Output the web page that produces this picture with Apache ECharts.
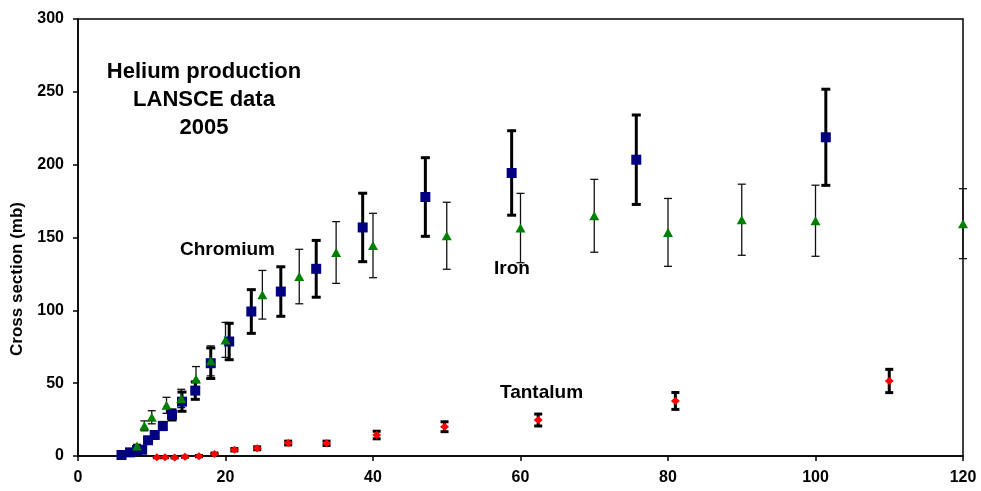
<!DOCTYPE html>
<html>
<head>
<meta charset="utf-8">
<title>Helium production cross sections</title>
<script src="https://cdn.jsdelivr.net/npm/echarts@6/dist/echarts.min.js"></script>
<style>
  html, body { margin: 0; padding: 0; background: #fff; }
  #chart { width: 981px; height: 491px; }
</style>
</head>
<body>
<div id="chart"></div>
<script>
// Neutron energy (MeV), helium production cross section (mb) and 1-sigma uncertainty.
const chromiumX   = [5.9, 7.05, 8.0, 8.7, 9.5, 10.4, 11.5, 12.75, 14.1, 15.9, 18, 20.5, 23.5, 27.5, 32.3, 38.6, 47.1, 58.8, 75.7, 101.4];
const chromiumY   = [0.7, 2.5, 4.1, 4.3, 10.8, 14.4, 20.6, 28.2, 37.3, 44.9, 63.7, 78.6, 99.2, 112.9, 128.5, 156.9, 177.8, 194.3, 203.4, 218.8];
const chromiumErr = [0.5, 0.8, 1, 1, 1.5, 2, 2.5, 3.5, 6.6, 6, 10.5, 12.5, 15, 17, 19.5, 23.5, 27, 29, 30.7, 33];

const ironX   = [8, 9, 10, 12, 14, 16, 18, 20, 25, 30, 35, 40, 50, 60, 70, 80, 90, 100, 120];
const ironY   = [6.8, 20.7, 26.6, 34.8, 39.5, 52.9, 65.3, 79.7, 110.7, 123.2, 139.7, 144.5, 151.2, 156.5, 164.9, 153.5, 162.2, 161.5, 159.5];
const ironErr = [1.2, 3.4, 4.5, 5.5, 6.3, 8.5, 10.3, 12, 16.7, 18.7, 21.2, 22.1, 23, 23.8, 25, 23.3, 24.4, 24.4, 24];

const tantalumX   = [10.7, 11.8, 13.1, 14.5, 16.4, 18.5, 21.2, 24.3, 28.5, 33.7, 40.5, 49.7, 62.4, 81, 110];
const tantalumY   = [-0.9, -0.9, -1.0, -0.5, -0.1, 1.4, 4.3, 5.3, 8.9, 8.7, 14.4, 20.1, 24.7, 37.8, 51.5];
const tantalumErr = [0.3, 0.3, 0.3, 0.3, 0.4, 0.6, 0.8, 1, 1.3, 1.5, 2.6, 3.4, 4.1, 5.8, 8];

const xTicks = { min: 0, max: 120, interval: 20 };
const yTicks = { min: 0, max: 300, interval: 50 };

const FONT = '"Liberation Sans", Arial, Helvetica, sans-serif';

function points(xs, ys) { return xs.map((x, i) => [x, ys[i]]); }
function bars(xs, ys, es) { return xs.map((x, i) => [x, ys[i] - es[i], ys[i] + es[i]]); }

// Vertical error bar with horizontal caps, placed through the axis scales.
function errorBar(capWidth, lineWidth, color) {
  return function (params, api) {
    const x = api.value(0);
    const lo = api.coord([x, api.value(1)]);
    const hi = api.coord([x, api.value(2)]);
    const h = capWidth / 2;
    const style = { stroke: color, lineWidth: lineWidth };
    return {
      type: 'group',
      children: [
        { type: 'line', shape: { x1: lo[0], y1: lo[1], x2: hi[0], y2: hi[1] }, style },
        { type: 'line', shape: { x1: lo[0] - h, y1: lo[1], x2: lo[0] + h, y2: lo[1] }, style },
        { type: 'line', shape: { x1: hi[0] - h, y1: hi[1], x2: hi[0] + h, y2: hi[1] }, style }
      ]
    };
  };
}

const chart = echarts.init(document.getElementById('chart'), null, { renderer: 'canvas' });

const labelStyle = { fontFamily: FONT, fontWeight: 'bold', fill: '#000' };

chart.setOption({
  animation: false,
  backgroundColor: '#fff',
  grid: {
    left: 78, right: 18, top: 19, bottom: 35,
    show: true, borderColor: '#000', borderWidth: 1.5, backgroundColor: 'transparent'
  },
  xAxis: {
    type: 'value',
    min: xTicks.min, max: xTicks.max, interval: xTicks.interval,
    axisLine: { show: true, onZero: true, lineStyle: { color: '#000', width: 1.5 } },
    axisTick: { show: true, inside: false, length: 5, lineStyle: { color: '#000', width: 1.5 } },
    axisLabel: { margin: 14, color: '#000', fontFamily: FONT, fontWeight: 'bold', fontSize: 16 },
    splitLine: { show: false }
  },
  yAxis: {
    type: 'value',
    min: yTicks.min, max: yTicks.max, interval: yTicks.interval,
    axisLine: { show: true, lineStyle: { color: '#000', width: 1.5 } },
    axisTick: { show: true, inside: false, length: 5, lineStyle: { color: '#000', width: 1.5 } },
    axisLabel: { margin: 14, color: '#000', fontFamily: FONT, fontWeight: 'bold', fontSize: 16 },
    splitLine: { show: false }
  },
  graphic: [
    { type: 'text', x: 204, y: 72, style: Object.assign({ text: 'Helium production', fontSize: 22, textAlign: 'center', textVerticalAlign: 'middle' }, labelStyle) },
    { type: 'text', x: 204, y: 100, style: Object.assign({ text: 'LANSCE data', fontSize: 22, textAlign: 'center', textVerticalAlign: 'middle' }, labelStyle) },
    { type: 'text', x: 204, y: 128, style: Object.assign({ text: '2005', fontSize: 22, textAlign: 'center', textVerticalAlign: 'middle' }, labelStyle) },
    { type: 'text', x: 180, y: 250, style: Object.assign({ text: 'Chromium', fontSize: 19, textAlign: 'left', textVerticalAlign: 'middle' }, labelStyle) },
    { type: 'text', x: 494, y: 269, style: Object.assign({ text: 'Iron', fontSize: 19, textAlign: 'left', textVerticalAlign: 'middle' }, labelStyle) },
    { type: 'text', x: 500, y: 393, style: Object.assign({ text: 'Tantalum', fontSize: 19, textAlign: 'left', textVerticalAlign: 'middle' }, labelStyle) },
    { type: 'text', x: 17.5, y: 279, rotation: Math.PI / 2,
      style: Object.assign({ text: 'Cross section (mb)', fontSize: 17, textAlign: 'center', textVerticalAlign: 'middle' }, labelStyle) }
  ],
  series: [
    {
      name: 'Iron uncertainty', type: 'custom', clip: false, z: 2,
      renderItem: errorBar(8, 1.3, '#111'),
      encode: { x: 0, y: [1, 2] },
      data: bars(ironX, ironY, ironErr)
    },
    {
      name: 'Chromium uncertainty', type: 'custom', clip: false, z: 2,
      renderItem: errorBar(9, 3, '#000'),
      encode: { x: 0, y: [1, 2] },
      data: bars(chromiumX, chromiumY, chromiumErr)
    },
    {
      name: 'Tantalum uncertainty', type: 'custom', clip: false, z: 2,
      renderItem: errorBar(8, 3, '#000'),
      encode: { x: 0, y: [1, 2] },
      data: bars(tantalumX, tantalumY, tantalumErr)
    },
    {
      name: 'Chromium', type: 'scatter', clip: false, z: 3,
      symbol: 'rect', symbolSize: 10,
      itemStyle: { color: '#000080', opacity: 1 },
      data: points(chromiumX, chromiumY)
    },
    {
      name: 'Iron', type: 'scatter', clip: false, z: 4,
      symbol: 'triangle', symbolSize: [10, 9],
      itemStyle: { color: '#008000', opacity: 1 },
      data: points(ironX, ironY)
    },
    {
      name: 'Tantalum', type: 'scatter', clip: false, z: 4,
      symbol: 'diamond', symbolSize: [9, 8],
      itemStyle: { color: '#ff0000', opacity: 1 },
      data: points(tantalumX, tantalumY)
    }
  ]
});
</script>
</body>
</html>
